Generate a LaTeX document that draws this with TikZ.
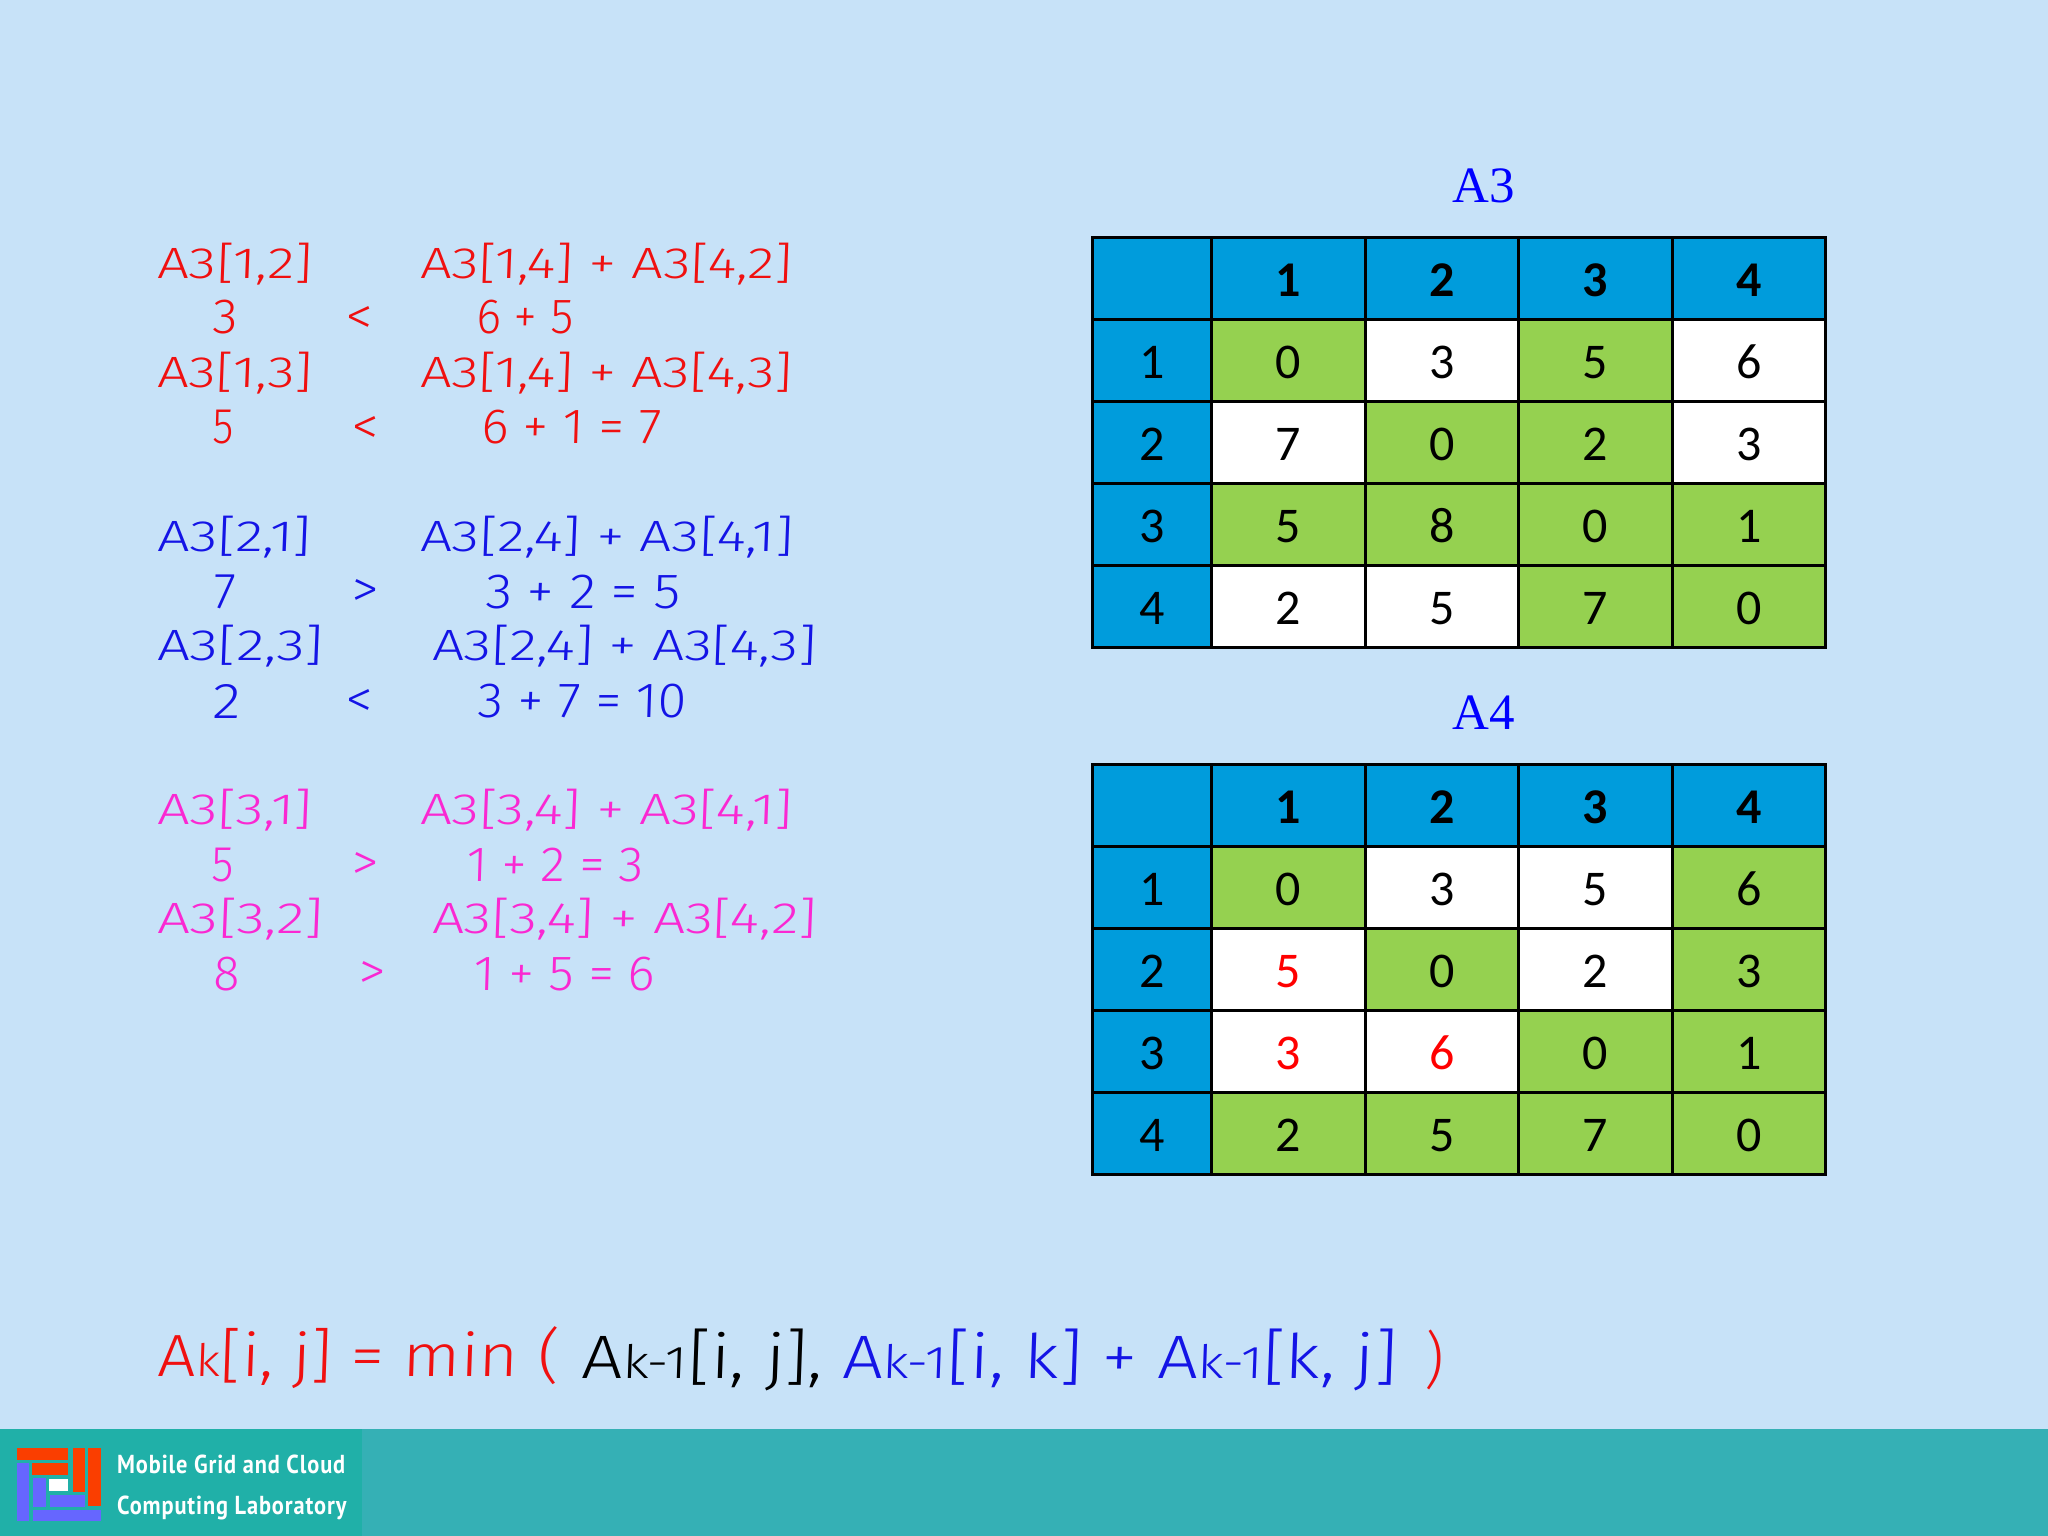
\documentclass[tikz,border=0pt]{standalone}
\usepackage{graphicx}
\usepackage{fontspec}
\setmainfont{Carlito}
\newfontfamily\handfont[FakeSlant=0.03]{Fira Sans Light}
\newfontfamily\titlefont{Liberation Serif}
\newfontfamily\logofont[LetterSpace=4]{PT Sans Bold}
\definecolor{bgblue}{HTML}{C7E2F8}
\definecolor{barteal}{HTML}{35B0B5}
\definecolor{logoteal}{HTML}{20B0A8}
\definecolor{headblue}{HTML}{009CDC}
\definecolor{cellgreen}{HTML}{95D150}
\definecolor{hred}{HTML}{F01010}
\definecolor{hblue}{HTML}{1414E6}
\definecolor{hmag}{HTML}{FA28D2}
\definecolor{logored}{HTML}{FA3E00}
\definecolor{logoviolet}{HTML}{6666FF}
\tikzset{
  cellbox/.style={draw=black,line width=3pt,minimum width=#1,minimum height=82pt,inner sep=0pt,text height=36pt,text depth=0pt,font=\fontsize{50}{50}\selectfont,text=black},
  G/.style={fill=cellgreen},
  W/.style={fill=white},
  H/.style={fill=headblue},
  handtext/.style={anchor=west,inner sep=0pt,outer sep=0pt},
  tabtitle/.style={font=\titlefont\fontsize{51}{51}\selectfont,text=blue,inner sep=0pt},
  logotext/.style={font=\logofont\fontsize{26}{26}\selectfont,text=white,anchor=west,inner sep=0pt},
}
% name, x0, x1, y centre, height, colour, text
\newcommand{\hw}[7]{%
  \pgfmathsetmacro{\hwwid}{#3-#2}%
  \node[handtext,text=#6] (#1) at (#2,#4) {\resizebox*{\hwwid pt}{#5pt}{\handfont\fontsize{40}{40}\selectfont #7}};}
\newcommand{\tabcell}[6]{% name, x, y, width, style, text
  \node[cellbox=#4pt,#5] (#1) at (#2,#3) {#6};}
\begin{document}
\begin{tikzpicture}[x=1pt,y=-1pt]
\useasboundingbox (0,0) rectangle (2048,1536);
\fill[bgblue] (0,0) rectangle (2048,1536);
\fill[barteal] (0,1429) rectangle (2048,1536);
\fill[logoteal] (0,1429) rectangle (362,1536);
% logo
\fill[logored] (17,1448) rectangle (68,1460);
\fill[logored] (32,1463) rectangle (68,1475);
\fill[logored] (73,1448) rectangle (85,1492);
\fill[logored] (88,1448) rectangle (101,1506);
\fill[logoviolet] (17,1463) rectangle (29,1521);
\fill[logoviolet] (33,1478) rectangle (46,1507);
\fill[white] (49,1479) rectangle (68,1491);
\fill[logoviolet] (50,1495) rectangle (85,1507);
\fill[logoviolet] (33,1510) rectangle (101,1521);
\node[logotext] (logoa) at (117,1464) {\scalebox{0.86}[1]{Mobile Grid and Cloud}};
\node[logotext] (logob) at (117,1508) {\scalebox{0.86}[1]{Computing Laboratory}};
% titles
\node[tabtitle] (titlea) at (1484,186) {A3};
\node[tabtitle] (titleb) at (1484,713) {A4};
% table A3
\foreach \c/\x/\w/\t in {0/1152/120/{},1/1288.5/153.5/1,2/1442/153.5/2,3/1595.5/153.5/3,4/1749/153.5/4}
  \tabcell{a\c}{\x}{278}{\w}{H}{\textbf{\t}};
\foreach \r/\y in {1/360,2/442,3/524,4/606}
  \tabcell{al\r}{1152}{\y}{120}{H}{\r};
\foreach \n/\x/\y/\s/\t in {
  a/1288.5/360/G/0,b/1442/360/W/3,c/1595.5/360/G/5,d/1749/360/W/6,
  e/1288.5/442/W/7,f/1442/442/G/0,g/1595.5/442/G/2,h/1749/442/W/3,
  i/1288.5/524/G/5,j/1442/524/G/8,k/1595.5/524/G/0,l/1749/524/G/1,
  m/1288.5/606/W/2,n/1442/606/W/5,o/1595.5/606/G/7,p/1749/606/G/0}
  \tabcell{ac\n}{\x}{\y}{153.5}{\s}{\t};
% table A4
\foreach \c/\x/\w/\t in {0/1152/120/{},1/1288.5/153.5/1,2/1442/153.5/2,3/1595.5/153.5/3,4/1749/153.5/4}
  \tabcell{b\c}{\x}{805}{\w}{H}{\textbf{\t}};
\foreach \r/\y in {1/887,2/969,3/1051,4/1133}
  \tabcell{bl\r}{1152}{\y}{120}{H}{\r};
\foreach \n/\x/\y/\s/\t in {
  a/1288.5/887/G/0,b/1442/887/W/3,c/1595.5/887/W/5,d/1749/887/G/6,
  e/1288.5/969/W/\textcolor{red}{5},f/1442/969/G/0,g/1595.5/969/W/2,h/1749/969/G/3,
  i/1288.5/1051/W/\textcolor{red}{3},j/1442/1051/W/\textcolor{red}{6},k/1595.5/1051/G/0,l/1749/1051/G/1,
  m/1288.5/1133/G/2,n/1442/1133/G/5,o/1595.5/1133/G/7,p/1749/1133/G/0}
  \tabcell{bc\n}{\x}{\y}{153.5}{\s}{\t};
% handwritten working: red
\hw{r1}{157}{312}{264}{42}{hred}{A3[1,2]}
\hw{r2}{420}{792}{264}{42}{hred}{A3[1,4] + A3[4,2]}
\hw{r3}{212}{237}{317}{34}{hred}{3}
\hw{r4}{345}{372}{320}{28}{hred}{<}
\hw{r5}{476}{573}{317}{34}{hred}{6 + 5}
\hw{r6}{157}{312}{373}{42}{hred}{A3[1,3]}
\hw{r7}{420}{792}{373}{42}{hred}{A3[1,4] + A3[4,3]}
\hw{r8}{212}{233}{427}{34}{hred}{5}
\hw{r9}{351}{378}{430}{28}{hred}{<}
\hw{r10}{481}{661}{427}{34}{hred}{6 + 1 = 7}
% blue
\hw{u1}{157}{311}{537}{42}{hblue}{A3[2,1]}
\hw{u2}{420}{793}{537}{42}{hblue}{A3[2,4] + A3[4,1]}
\hw{u3}{213}{235}{592}{34}{hblue}{7}
\hw{u4}{351}{378}{593}{28}{hblue}{>}
\hw{u5}{485}{680}{592}{34}{hblue}{3 + 2 = 5}
\hw{u6}{157}{323}{646}{42}{hblue}{A3[2,3]}
\hw{u7}{432}{816}{646}{42}{hblue}{A3[2,4] + A3[4,3]}
\hw{u8}{212}{240}{701}{34}{hblue}{2}
\hw{u9}{345}{372}{703}{28}{hblue}{<}
\hw{u10}{477}{686}{701}{34}{hblue}{3 + 7 = 10}
% magenta
\hw{m1}{157}{312}{810}{42}{hmag}{A3[3,1]}
\hw{m2}{420}{792}{810}{42}{hmag}{A3[3,4] + A3[4,1]}
\hw{m3}{211}{233}{865}{34}{hmag}{5}
\hw{m4}{351}{378}{866}{28}{hmag}{>}
\hw{m5}{466}{643}{865}{34}{hmag}{1 + 2 = 3}
\hw{m6}{157}{323}{919}{42}{hmag}{A3[3,2]}
\hw{m7}{432}{816}{919}{42}{hmag}{A3[3,4] + A3[4,2]}
\hw{m8}{213}{239}{974}{34}{hmag}{8}
\hw{m9}{358}{385}{975}{28}{hmag}{>}
\hw{m10}{473}{655}{974}{34}{hmag}{1 + 5 = 6}
% formula
\hw{fa}{157}{559}{1358}{62}{hred}{A{\fontsize{30}{30}\selectfont k}[i, j] = min (}
\hw{fb}{581}{823}{1360}{62}{black}{A{\fontsize{30}{30}\selectfont k-1}[i, j],}
\hw{fc}{842}{1397}{1360}{62}{hblue}{A{\fontsize{30}{30}\selectfont k-1}[i, k] + A{\fontsize{30}{30}\selectfont k-1}[k, j]}
\hw{fd}{1424}{1443}{1360}{60}{hred}{)}
\end{tikzpicture}
\end{document}
